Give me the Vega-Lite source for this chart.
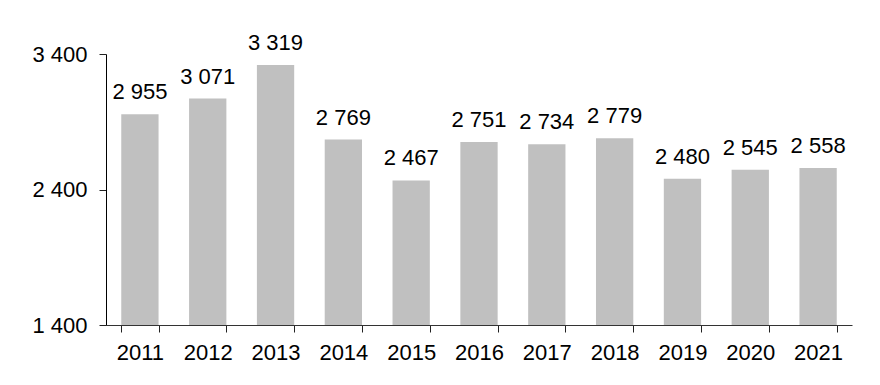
{
  "$schema": "https://vega.github.io/schema/vega-lite/v6.json",
  "autosize": {"type": "none"},
  "width": 746,
  "height": 271,
  "padding": {"left": 106, "top": 54, "right": 28, "bottom": 60},
  "background": "white",
  "config": {
    "view": {"stroke": null},
    "font": "Liberation Sans",
    "locale": {"number": {"decimal": ",", "thousands": " ", "grouping": [3], "currency": ["", ""]}}
  },
  "data": {"values": [
    {"year": "2011", "value": 2955},
    {"year": "2012", "value": 3071},
    {"year": "2013", "value": 3319},
    {"year": "2014", "value": 2769},
    {"year": "2015", "value": 2467},
    {"year": "2016", "value": 2751},
    {"year": "2017", "value": 2734},
    {"year": "2018", "value": 2779},
    {"year": "2019", "value": 2480},
    {"year": "2020", "value": 2545},
    {"year": "2021", "value": 2558}
  ]},
  "encoding": {
    "x": {
      "field": "year", "type": "ordinal",
      "scale": {"paddingInner": 0.45, "paddingOuter": 0.225},
      "axis": {
        "title": null, "labelAngle": 0, "labelFontSize": 22, "labelColor": "#000",
        "labelPadding": 10, "ticks": true, "tickBand": "extent", "tickSize": 7, "tickWidth": 1,
        "domainColor": "#333", "domainWidth": 1, "tickColor": "#222", "grid": false
      }
    },
    "y": {
      "field": "value", "type": "quantitative",
      "scale": {"domain": [1400, 3400], "nice": false, "zero": false},
      "axis": {
        "title": null, "values": [1400, 2400, 3400], "format": ",d",
        "labelFontSize": 22, "labelColor": "#000", "labelPadding": 12,
        "ticks": true, "tickSize": 7, "tickWidth": 1,
        "domainColor": "#000", "domainWidth": 1, "tickColor": "#222", "grid": false
      }
    }
  },
  "layer": [
    {"mark": {"type": "bar", "color": "#c0c0c0"}, "encoding": {"y2": {"datum": 1400}}},
    {"mark": {"type": "text", "fontSize": 22, "dy": -15, "baseline": "alphabetic", "color": "#000"},
     "encoding": {"text": {"field": "value", "type": "quantitative", "format": ",d"}}}
  ]
}
